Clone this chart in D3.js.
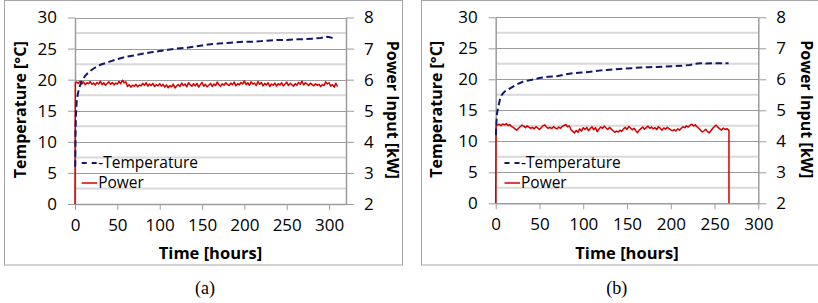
<!DOCTYPE html>
<html>
<head>
<meta charset="utf-8">
<script src="https://cdn.jsdelivr.net/npm/d3@7"></script>
<style>
  html, body { margin: 0; padding: 0; background: #fff; }
  svg { display: block; }
</style>
</head>
<body>
<svg id="chart" width="818" height="303"></svg>
<script>
// ---------------- data ----------------
const tempTicks = [0, 5, 10, 15, 20, 25, 30];
const powerTicks = [2, 3, 4, 5, 6, 7, 8];
const timeTicksA = [0, 50, 100, 150, 200, 250, 300];
const timeTicksB = [0, 50, 100, 150, 200, 250, 300];
const legendLabels = ["-Temperature", "Power"];
const captions = ["(a)", "(b)"];

// Temperature (°C) vs time (hours), panel (a)
const tempA = [
  [0.2, 6], [0.6, 11], [1, 14], [2, 16.5], [3.5, 17.8], [5, 18.7], [8, 19.8], [12, 20.6],
  [16, 21.2], [22, 21.8], [30, 22.4], [41, 22.9], [50, 23.3], [61, 23.7], [70, 23.9],
  [81, 24.2], [90, 24.4], [100, 24.6], [110, 24.8], [120, 25.0], [130, 25.1], [140, 25.3],
  [150, 25.5], [160, 25.7], [170, 25.8], [180, 25.9], [190, 26.0], [200, 26.1], [210, 26.1],
  [220, 26.2], [230, 26.3], [240, 26.4], [250, 26.4], [260, 26.5], [270, 26.5], [280, 26.6],
  [290, 26.7], [298, 26.9], [302, 26.8], [306, 26.6]
];
// Temperature (°C) vs time (hours), panel (b)
const tempB = [
  [0.3, 11], [0.8, 13], [1.5, 14.5], [3, 15.6], [5, 16.8], [7, 17.5], [10, 18.0], [16, 18.5],
  [23, 19.1], [31, 19.6], [40, 19.9], [50, 20.2], [60, 20.4], [70, 20.5], [80, 20.8],
  [89, 21.0], [98, 21.1], [108, 21.2], [118, 21.4], [127, 21.5], [136, 21.6], [146, 21.7],
  [155, 21.8], [165, 21.9], [175, 21.95], [184, 22.0], [193, 22.05], [203, 22.1], [213, 22.2],
  [222, 22.3], [228, 22.5], [234, 22.6], [240, 22.55], [248, 22.6], [256, 22.6], [266, 22.6]
];

// Power input (kW), panel (a): sampled every 2 h from t = 2 h
const powerStepA = 2;
const powerA = [
  5.92,5.88,5.95,5.86,5.93,5.84,5.90,5.87,5.94,5.85,
  5.89,5.83,5.91,5.86,5.95,5.84,5.90,5.82,5.88,5.93,
  5.85,5.91,5.83,5.89,5.86,5.94,5.87,5.98,5.90,5.93,
  5.78,5.84,5.76,5.82,5.79,5.85,5.77,5.83,5.80,5.88,
  5.82,5.90,5.79,5.86,5.81,5.88,5.78,5.84,5.80,5.87,
  5.79,5.85,5.76,5.83,5.74,5.81,5.77,5.86,5.73,5.80,
  5.84,5.78,5.89,5.81,5.86,5.77,5.90,5.83,5.79,5.87,
  5.80,5.88,5.76,5.84,5.91,5.79,5.85,5.77,5.82,5.88,
  5.78,5.86,5.81,5.92,5.83,5.79,5.87,5.82,5.90,5.85,
  5.81,5.89,5.84,5.92,5.80,5.87,5.83,5.91,5.86,5.96,
  5.84,5.90,5.82,5.93,5.86,5.89,5.81,5.94,5.85,5.91,
  5.80,5.88,5.83,5.90,5.78,5.86,5.82,5.89,5.79,5.87,
  5.83,5.90,5.80,5.86,5.92,5.81,5.88,5.84,5.79,5.87,
  5.82,5.91,5.85,5.95,5.83,5.90,5.86,5.81,5.89,5.84,
  5.80,5.87,5.82,5.85,5.78,5.84,5.81,5.93,5.86,5.90,
  5.79,5.84,5.76,5.88,5.78
];
const powerStartA = [[0, 2], [0.4, 5.9]];
const powerEndA = [];

// Power input (kW), panel (b): sampled every 2 h from t = 2 h
const powerStepB = 2;
const powerB = [
  4.52,4.55,4.50,4.56,4.53,4.57,4.51,4.54,4.48,4.45,
  4.40,4.36,4.42,4.47,4.52,4.49,4.44,4.50,4.46,4.42,
  4.45,4.40,4.47,4.43,4.38,4.44,4.50,4.53,4.46,4.42,
  4.45,4.41,4.47,4.43,4.40,4.46,4.42,4.48,4.51,4.54,
  4.47,4.50,4.38,4.32,4.27,4.35,4.29,4.40,4.33,4.44,
  4.38,4.45,4.34,4.41,4.47,4.37,4.44,4.31,4.40,4.46,
  4.42,4.49,4.43,4.38,4.45,4.40,4.34,4.29,4.33,4.30,
  4.36,4.32,4.40,4.45,4.38,4.48,4.43,4.37,4.42,4.34,
  4.28,4.36,4.41,4.46,4.39,4.44,4.49,4.42,4.46,4.40,
  4.44,4.38,4.47,4.42,4.36,4.43,4.39,4.45,4.41,4.37,
  4.34,4.38,4.33,4.40,4.36,4.42,4.47,4.44,4.50,4.46,
  4.52,4.55,4.49,4.53,4.47,4.42,4.36,4.30,4.34,4.39,
  4.31,4.27,4.35,4.42,4.48,4.52,4.45,4.40,4.36,4.43,
  4.38,4.41,4.36
];
const powerStartB = [[0, 2], [0.4, 4.5]];
const powerEndB = [[266.5, 4.36], [266.5, 2]];

// ---------------- drawing ----------------
const svg = d3.select("#chart");
const FONT = "'Open Sans', 'DejaVu Sans', sans-serif";
const TEMP_COLOR = "#10186b";
const POWER_COLOR = "#d40000";
const MAJOR = "#9c9c9c";
const MINOR = "#d9d9d9";

function buildPower(start, step, values, end) {
  return start.concat(values.map((v, i) => [(i + 1) * step, v]), end);
}

function drawPanel(cfg) {
  const g = svg.append("g");
  const x = d3.scaleLinear().domain([0, cfg.xMax]).range([cfg.left, cfg.right]);
  const yT = d3.scaleLinear().domain([0, 30]).range([cfg.bottom, cfg.top]);
  const yP = d3.scaleLinear().domain([2, 8]).range([cfg.bottom, cfg.top]);

  // border
  g.append("rect")
    .attr("x", cfg.boxX + 0.5).attr("y", 0.5)
    .attr("width", cfg.boxW).attr("height", 264.5)
    .attr("fill", "none").attr("stroke", "#a6a6a6").attr("stroke-width", 1);

  // minor gridlines
  const minor = d3.range(2.5, 30, 5);
  g.append("g").selectAll("line").data(minor).join("line")
    .attr("x1", cfg.left).attr("x2", cfg.right)
    .attr("y1", d => yT(d)).attr("y2", d => yT(d))
    .attr("stroke", MINOR).attr("stroke-width", 2);

  // major gridlines
  g.append("g").selectAll("line").data(tempTicks.slice(1)).join("line")
    .attr("x1", cfg.left).attr("x2", cfg.right)
    .attr("y1", d => Math.round(yT(d)) + 0.5).attr("y2", d => Math.round(yT(d)) + 0.5)
    .attr("stroke", MAJOR).attr("stroke-width", 1);

  // left axis
  const axL = g.append("g").attr("transform", `translate(${cfg.left},0)`)
    .call(d3.axisLeft(yT).tickValues(tempTicks).tickSize(7).tickSizeOuter(0).tickPadding(11).tickFormat(d3.format("d")));
  // right axis
  const axR = g.append("g").attr("transform", `translate(${cfg.right},0)`)
    .call(d3.axisRight(yP).tickValues(powerTicks).tickSize(8).tickSizeOuter(0).tickPadding(10).tickFormat(d3.format("d")));
  // bottom axis
  const axB = g.append("g").attr("transform", `translate(0,${cfg.bottom})`)
    .call(d3.axisBottom(x).tickValues(cfg.xTicks).tickSize(6).tickSizeOuter(0).tickPadding(9).tickFormat(d3.format("d")));

  [axL, axR, axB].forEach(ax => {
    ax.select(".domain").attr("stroke", MAJOR).attr("stroke-width", 1.5);
    ax.selectAll(".tick line").attr("stroke", MAJOR);
    ax.selectAll(".tick text").attr("fill", "#000").style("font-family", FONT).style("font-size", "17px");
  });

  // lines
  const lineT = d3.line().x(d => x(d[0])).y(d => yT(d[1]));
  const lineP = d3.line().x(d => x(d[0])).y(d => yP(d[1]));

  g.append("path").datum(cfg.power).attr("d", lineP)
    .attr("fill", "none").attr("stroke", POWER_COLOR).attr("stroke-width", 1.5).attr("stroke-linejoin", "round");
  g.append("path").datum(cfg.temp).attr("d", lineT)
    .attr("fill", "none").attr("stroke", TEMP_COLOR).attr("stroke-width", 2).attr("stroke-dasharray", "6.5,3.5");

  // axis titles
  g.append("text").attr("transform", `translate(${cfg.titleLX},${(cfg.top + cfg.bottom) / 2 - 1}) rotate(-90)`)
    .attr("text-anchor", "middle").attr("dy", "0.35em")
    .style("font-family", FONT).style("font-size", "16px").style("font-weight", "bold")
    .text("Temperature [°C]");
  g.append("text").attr("transform", `translate(${cfg.titleRX},${(cfg.top + cfg.bottom) / 2 - 1}) rotate(90)`)
    .attr("text-anchor", "middle").attr("dy", "0.35em")
    .style("font-family", FONT).style("font-size", "16px").style("font-weight", "bold")
    .text("Power Input [kW]");
  g.append("text").attr("x", (cfg.left + cfg.right) / 2).attr("y", 259)
    .attr("text-anchor", "middle")
    .style("font-family", FONT).style("font-size", "16.5px").style("font-weight", "bold")
    .text("Time [hours]");

  // legend
  const lg = g.append("g");
  lg.append("line").attr("x1", cfg.legX).attr("x2", cfg.legX + 15.5)
    .attr("y1", 163).attr("y2", 163)
    .attr("stroke", TEMP_COLOR).attr("stroke-width", 2).attr("stroke-dasharray", "5,5");
  lg.append("line").attr("x1", cfg.legX).attr("x2", cfg.legX + 15.5)
    .attr("y1", 183).attr("y2", 183)
    .attr("stroke", POWER_COLOR).attr("stroke-width", 1.5);
  lg.selectAll("text").data(legendLabels).join("text")
    .attr("x", cfg.legX + 16.5).attr("y", (d, i) => 163 + i * 20).attr("dy", "0.35em")
    .style("font-family", FONT).style("font-size", "15.5px").text(d => d);

  // caption
  g.append("text").attr("x", cfg.capX).attr("y", 294).attr("text-anchor", "middle")
    .style("font-family", "'Liberation Serif', 'Times New Roman', serif").style("font-size", "18px")
    .text(cfg.caption);
}

drawPanel({
  boxX: 4, boxW: 398,
  left: 75, right: 346, top: 17.5, bottom: 204, xMax: 320, xTicks: timeTicksA,
  temp: tempA, power: buildPower(powerStartA, powerStepA, powerA, powerEndA),
  titleLX: 20, titleRX: 393, legX: 81.7, capX: 205, caption: captions[0]
});
drawPanel({
  boxX: 421, boxW: 420,
  left: 495.7, right: 758.3, top: 17.3, bottom: 203.3, xMax: 300, xTicks: timeTicksB,
  temp: tempB, power: buildPower(powerStartB, powerStepB, powerB, powerEndB),
  titleLX: 436.7, titleRX: 806.5, legX: 504.5, capX: 616.7, caption: captions[1]
});
</script>
</body>
</html>
